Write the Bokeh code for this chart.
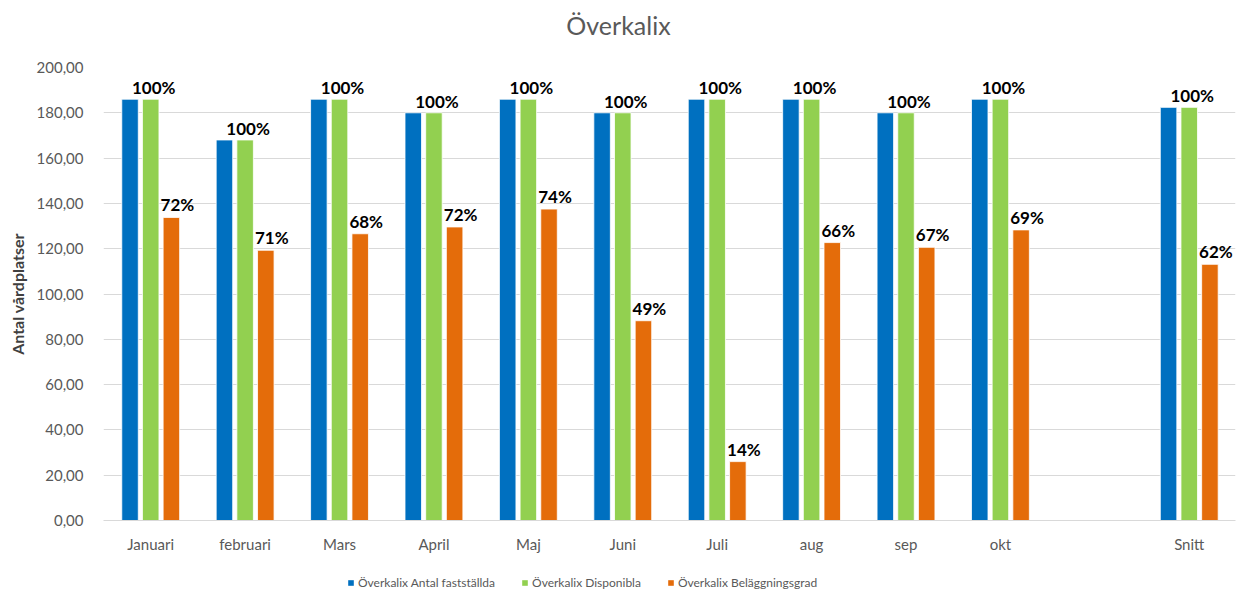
from bokeh.plotting import figure
from bokeh.models import ColumnDataSource, Range1d, FixedTicker, Legend, LegendItem
from bokeh.layouts import column
from bokeh.transform import dodge
from bokeh.core.properties import value
from bokeh.embed import file_html
from bokeh.resources import INLINE

nan = float("nan")

title_text = "Överkalix"
categories = ["Januari", "februari", "Mars", "April", "Maj", "Juni", "Juli",
              "aug", "sep", "okt", "", "Snitt"]
antal_faststallda = [186, 168, 186, 180, 186, 180, 186, 186, 180, 186, nan, 182.4]
disponibla = [186, 168, 186, 180, 186, 180, 186, 186, 180, 186, nan, 182.4]
belaggning = [133.8, 119.3, 126.6, 129.6, 137.5, 88.2, 26.0, 122.7, 120.6, 128.3, nan, 113.1]
disp_labels = ["100%", "100%", "100%", "100%", "100%", "100%", "100%",
               "100%", "100%", "100%", "", "100%"]
bel_labels = ["72%", "71%", "68%", "72%", "74%", "49%", "14%",
              "66%", "67%", "69%", "", "62%"]
y_ticks = [0, 20, 40, 60, 80, 100, 120, 140, 160, 180, 200]
series_names = ["Överkalix Antal fastställda", "Överkalix Disponibla",
                "Överkalix Beläggningsgrad"]
colors = ["#0070C0", "#92D050", "#E46C0A"]

FONT = "Lato"
GREY = "#595959"


def strip(height):
    # frames in a column are aligned with the main plot's frame (103..1235)
    f = figure(width=1236, height=height, output_backend="svg",
               toolbar_location=None, x_range=Range1d(103, 1235),
               y_range=Range1d(0, height), x_axis_location=None,
               y_axis_location=None, min_border_left=0, min_border_right=0,
               min_border_top=0, min_border_bottom=0)
    f.outline_line_color = None
    f.xgrid.grid_line_color = None
    f.ygrid.grid_line_color = None
    return f


# title strip
tf = strip(45)
tf.text(x=[618], y=[21], text=[title_text], text_font=value(FONT),
        text_font_size="25px", text_color=GREY, text_align="center",
        text_baseline="middle")

src = ColumnDataSource(dict(
    x=list(range(len(categories))),
    a=antal_faststallda, d=disponibla, b=belaggning,
    dl=disp_labels, bl=bel_labels,
))

p = figure(width=1236, height=520, output_backend="svg", toolbar_location=None,
           x_range=Range1d(-0.5, 11.49), y_range=Range1d(0, 200),
           min_border_left=103, min_border_right=1, min_border_top=22,
           min_border_bottom=45)
p.outline_line_color = None
p.background_fill_color = "white"
p.border_fill_color = "white"

bw = 0.175
step = 0.219
p.vbar(x=dodge("x", -step, range=p.x_range), top="a", width=bw, source=src,
       fill_color=colors[0], line_color="white", line_width=0.8)
p.vbar(x=dodge("x", 0, range=p.x_range), top="d", width=bw, source=src,
       fill_color=colors[1], line_color="white", line_width=0.8)
p.vbar(x=dodge("x", step, range=p.x_range), top="b", width=bw, source=src,
       fill_color=colors[2], line_color="white", line_width=0.8)

p.text(x=dodge("x", 0, range=p.x_range), y="d", text="dl", source=src,
       text_font=value(FONT), text_font_style="bold", text_font_size="17px",
       text_color="black", text_align="center", text_baseline="bottom",
       x_offset=3, y_offset=-1)
p.text(x=dodge("x", step, range=p.x_range), y="b", text="bl", source=src,
       text_font=value(FONT), text_font_style="bold", text_font_size="17px",
       text_color="black", text_align="center", text_baseline="bottom",
       x_offset=6, y_offset=-2)

# axes
p.xaxis.ticker = FixedTicker(ticks=list(range(len(categories))))
p.xaxis.major_label_overrides = {i: c for i, c in enumerate(categories)}
p.xaxis.major_tick_line_color = None
p.xaxis.minor_tick_line_color = None
p.xaxis.axis_line_color = "#D9D9D9"
p.xaxis.major_label_text_font = FONT
p.xaxis.major_label_text_font_size = "15px"
p.xaxis.major_label_text_color = GREY
p.xaxis.major_label_standoff = 8

p.yaxis.ticker = FixedTicker(ticks=y_ticks)
p.yaxis.major_label_overrides = {t: f"{t},00" for t in y_ticks}
p.yaxis.major_tick_line_color = None
p.yaxis.minor_tick_line_color = None
p.yaxis.axis_line_color = None
p.yaxis.major_label_text_font = FONT
p.yaxis.major_label_text_font_size = "15px"
p.yaxis.major_label_text_color = GREY
p.yaxis.major_label_standoff = 14
p.yaxis.axis_label = "Antal vårdplatser"
p.yaxis.axis_label_text_font = FONT
p.yaxis.axis_label_text_font_style = "bold"
p.yaxis.axis_label_text_font_size = "16px"
p.yaxis.axis_label_text_color = "#404040"
p.yaxis.axis_label_standoff = 7

p.xgrid.grid_line_color = None
p.ygrid.grid_line_color = "#D9D9D9"
p.ygrid.grid_line_width = 1

# legend strip
lg = strip(25)
items = []
for name, col in zip(series_names, colors):
    hidden = ColumnDataSource(dict(x=[600], top=[0]))
    r = lg.vbar(x="x", top="top", width=1, source=hidden, fill_color=col,
                line_color=None)
    items.append(LegendItem(label=name, renderers=[r]))
legend = Legend(items=items, orientation="horizontal", location=(244, 0),
                glyph_width=7, glyph_height=7, label_standoff=4, spacing=26,
                padding=0, margin=0, border_line_color=None,
                background_fill_alpha=0,
                label_text_font=FONT, label_text_font_size="12px",
                label_text_color=GREY)
lg.add_layout(legend, "center")

layout = column(tf, p, lg, spacing=0)
open("out.html", "w").write(file_html(layout, INLINE))
